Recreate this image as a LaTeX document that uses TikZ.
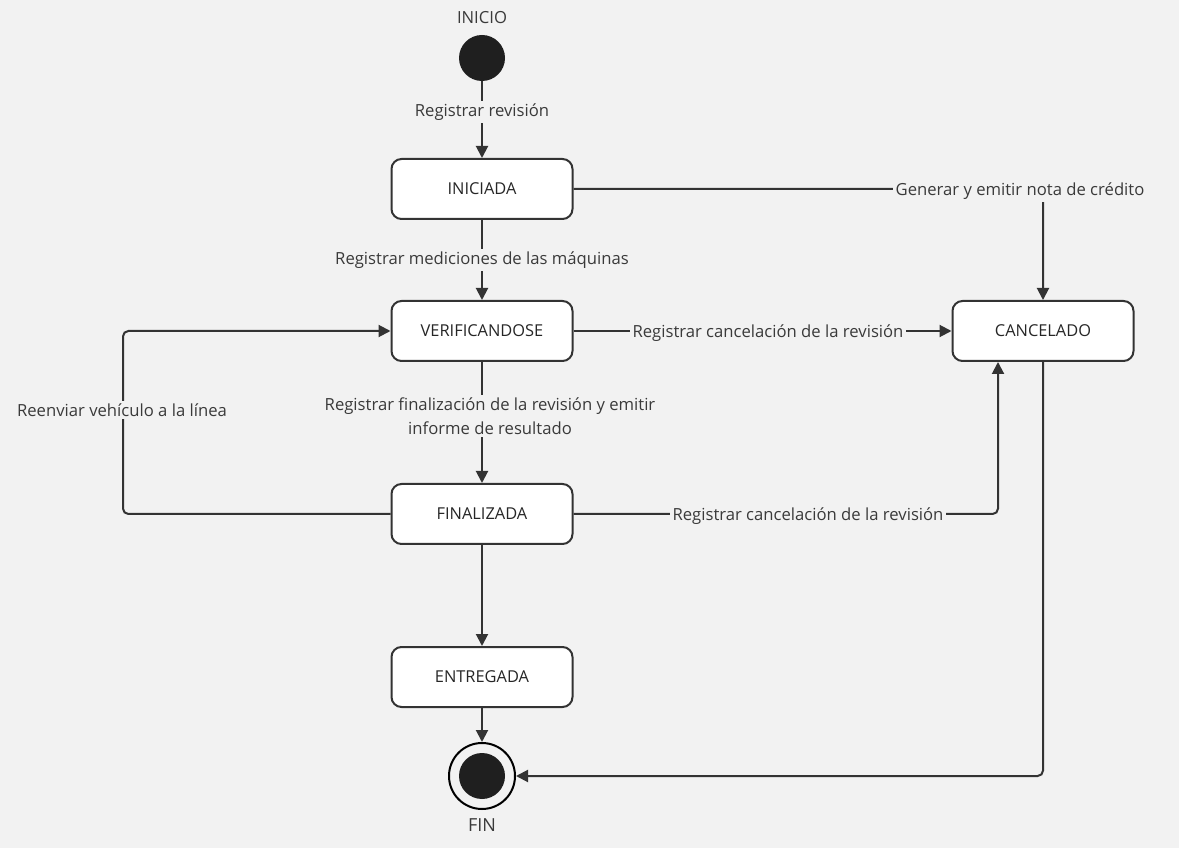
\documentclass[tikz,border=0pt]{standalone}
\usepackage{fontspec}
\setmainfont{Open Sans}
\usetikzlibrary{arrows.meta,positioning}
\definecolor{bg}{HTML}{F2F2F2}
\definecolor{ln}{HTML}{333333}
\definecolor{tx}{HTML}{3A3A3A}
\begin{document}
\begin{tikzpicture}[x=0.75pt,y=-0.75pt,
  state/.style={draw=ln,line width=1.5pt,fill=white,rounded corners=7.5pt,minimum width=135.75pt,minimum height=45pt,inner sep=0pt,text=black!85,font=\fontsize{12.3}{14}\selectfont},
  conn/.style={draw=ln,line width=1.5pt,-{Triangle[length=9pt,width=9pt]},rounded corners=4pt},
  lbl/.style={fill=bg,text=tx,inner sep=2pt,font=\fontsize{12.5}{18}\selectfont,align=center},
  captxt/.style={text=tx,inner sep=0pt,font=\fontsize{12.5}{14}\selectfont}]
\fill[bg] (0,0) rectangle (1179,848);
\useasboundingbox (0,0) rectangle (1179,848);
% nodes
\node[captxt] (inicio) at (482,18) {INICIO};
\node[circle,fill=black!88,minimum size=34.5pt,inner sep=0pt] (start) at (482,58) {};
\node[state] (iniciada) at (482,189) {INICIADA};
\node[state] (verif) at (482,331) {VERIFICANDOSE};
\node[state] (final) at (482,514) {FINALIZADA};
\node[state] (entreg) at (482,677) {ENTREGADA};
\node[state] (cancel) at (1043,331) {CANCELADO};
\node[circle,draw=black,line width=1.5pt,fill=bg,minimum size=49.5pt,inner sep=0pt] (fin) at (482,776) {};
\node[circle,fill=black!88,minimum size=34.5pt,inner sep=0pt] (finin) at (482,776) {};
\node[captxt] (finlbl) at (482,825) {\fontsize{13.5}{15}\selectfont FIN};
% coordinates
\coordinate (c1) at (1043,189);
\coordinate (c2) at (998,514);
\coordinate (c3) at (123,514);
\coordinate (c4) at (123,331);
\coordinate (c5) at (1043,776);
% connectors
\draw[conn] (start) -- (iniciada);
\node[lbl] (l1) at (482,112) {Registrar revisión};
\draw[conn] (iniciada) -- (verif);
\node[lbl] (l2) at (482,260) {Registrar mediciones de las máquinas};
\draw[conn] (iniciada.east) -- (c1) -- (cancel.north);
\node[lbl] (l3) at (1020,191) {Generar y emitir nota de crédito};
\draw[conn] (verif) -- (cancel);
\node[lbl] (l4) at (768,333) {Registrar cancelación de la revisión};
\draw[conn] (verif) -- (final);
\node[lbl] (l5) at (490,416) {Registrar finalización de la revisión y emitir\\informe de resultado};
\draw[conn] (final) -- (entreg);
\draw[conn] (final.east) -- (c2) -- (cancel.south -| c2);
\node[lbl] (l6) at (808,516) {Registrar cancelación de la revisión};
\draw[conn] (final.west) -- (c3) -- (c4) -- (verif.west);
\node[lbl] (l7) at (122,410) {Reenviar vehículo a la línea};
\draw[conn] (entreg) -- (fin);
\draw[conn] (cancel.south) -- (c5) -- (fin.east);
\end{tikzpicture}
\end{document}
